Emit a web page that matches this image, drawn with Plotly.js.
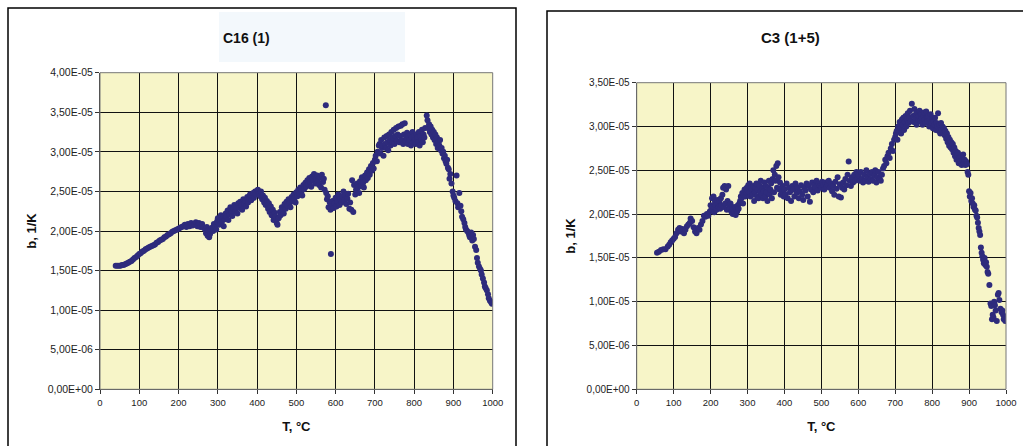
<!DOCTYPE html>
<html><head><meta charset="utf-8">
<script src="https://cdn.plot.ly/plotly-3.0.1.min.js"></script>
<style>html,body{margin:0;padding:0;background:#fff;}#chart{width:1023px;height:446px;}</style>
</head><body><div id="chart"></div>
<script>
// values of b are read in units of 1e-5 1/K
const UNIT = 1e-5;

// ---- Chart C16 (1) ----
const c16T = [
 40,44,48,52,56,60,64,68,72,76,80,84,88,92,96,100,104,108,112,116,120,124,128,132,136,140,144,148,152,156,160,164,168,172,176,180,184,188,192,196,200,204,208,
 212,216,220,224,228,232,236,240,244,248,252,256,260,264,268,270,272,274,276,278,280,282,
 285,288,290,293,296,298,300,303,305,308,310,313,315,318,320,322,325,327,330,332,335,337,340,342,345,347,350,352,355,357,360,362,365,367,370,372,375,377,380,382,385,387,390,392,395,397,400,
 402,405,408,410,413,415,418,420,422,425,428,430,432,435,437,440,442,445,447,450,452,
 455,458,460,463,465,468,470,473,475,478,480,483,485,488,490,493,495,498,500,503,505,508,510,513,515,518,520,523,525,528,530,533,535,538,540,543,545,548,550,553,555,558,560,563,565,568,570,572,
 575,588,
 576,578,580,582,585,587,590,592,595,597,600,602,605,607,610,612,615,617,620,622,625,627,630,632,635,637,640,
 642,645,647,650,652,655,657,660,662,665,667,670,672,675,677,680,682,685,687,690,692,695,697,700,702,705,707,710,
 712,714,716,718,720,722,724,726,728,730,732,734,736,738,740,742,744,746,748,750,752,754,756,758,760,762,764,766,768,770,772,774,776,778,780,782,784,786,788,790,792,794,796,798,800,802,804,806,808,810,812,814,816,818,820,822,824,826,828,
 832,834,836,838,840,842,844,846,848,850,852,854,856,858,860,862,864,866,868,870,872,874,876,878,880,882,884,886,888,890,892,895,898,900,902,905,908,910,912,915,918,920,922,925,928,930,932,935,938,940,942,945,948,950,952,955,958,960,962,965,968,970,972,975,978,980,982,985,988,990,993,996,998,1000
];
const c16B = [
 1.56,1.56,1.56,1.56,1.57,1.57,1.58,1.59,1.60,1.61,1.62,1.64,1.66,1.67,1.69,1.71,1.72,1.74,1.75,1.77,1.78,1.79,1.80,1.81,1.82,1.83,1.85,1.86,1.88,1.89,1.90,1.92,1.93,1.95,1.96,1.97,1.99,2.00,2.01,2.02,2.03,2.04,2.05,
 2.06,2.08,2.05,2.09,2.06,2.10,2.07,2.09,2.11,2.06,2.10,2.05,2.09,2.04,2.02,1.97,2.05,1.94,2.01,1.92,1.96,2.02,
 2.04,2.00,2.09,2.05,2.02,2.12,2.16,2.08,2.13,2.20,2.11,2.17,2.06,2.15,2.22,2.18,2.26,2.14,2.21,2.30,2.24,2.19,2.28,2.33,2.25,2.30,2.22,2.35,2.29,2.37,2.32,2.27,2.40,2.35,2.38,2.31,2.43,2.36,2.41,2.46,2.39,2.44,2.48,2.42,2.50,2.46,2.51,
 2.52,2.47,2.44,2.50,2.40,2.45,2.36,2.42,2.33,2.38,2.28,2.35,2.24,2.31,2.20,2.27,2.14,2.23,2.18,2.10,2.08,
 2.16,2.24,2.20,2.30,2.26,2.22,2.34,2.28,2.37,2.32,2.40,2.35,2.30,2.43,2.38,2.46,2.41,2.36,2.49,2.44,2.52,2.47,2.55,2.50,2.45,2.58,2.53,2.61,2.56,2.64,2.59,2.67,2.62,2.56,2.69,2.64,2.72,2.60,2.66,2.70,2.63,2.58,2.68,2.55,2.71,2.62,2.66,2.52,
 3.59,1.71,
 2.48,2.40,2.44,2.30,2.36,2.27,2.33,2.38,2.29,2.35,2.42,2.31,2.37,2.46,2.33,2.40,2.36,2.44,2.50,2.39,2.45,2.34,2.41,2.47,2.28,2.36,2.27,
 2.64,2.24,2.58,2.46,2.52,2.60,2.55,2.48,2.63,2.57,2.68,2.61,2.55,2.70,2.64,2.74,2.67,2.78,2.71,2.82,2.76,2.86,2.79,2.90,2.95,2.88,3.00,3.08,
 3.10,2.98,3.15,3.05,3.08,2.95,3.18,3.10,3.05,3.20,3.12,3.02,3.22,3.15,3.08,3.25,3.12,3.18,3.28,3.10,3.20,3.30,3.14,3.22,3.32,3.12,3.20,3.33,3.15,3.35,3.10,3.22,3.36,3.14,3.18,3.24,3.10,3.20,3.15,3.22,3.08,3.18,3.25,3.12,3.20,3.15,3.10,3.22,3.18,3.12,3.25,3.08,3.20,3.15,3.28,3.12,3.22,3.18,3.30,
 3.46,3.40,3.30,3.35,3.25,3.32,3.22,3.28,3.18,3.25,3.15,3.22,3.10,3.18,3.05,3.12,3.08,3.15,3.02,3.05,2.98,3.00,2.92,2.95,2.88,2.85,2.90,2.80,2.78,2.66,2.72,2.60,2.50,2.45,2.42,2.38,2.70,2.35,2.30,2.48,2.32,2.25,2.18,2.15,2.10,2.05,2.02,2.00,1.98,1.95,1.92,1.98,1.88,1.95,1.90,1.80,1.76,1.66,1.60,1.55,1.52,1.50,1.45,1.40,1.35,1.30,1.28,1.25,1.20,1.15,1.12,1.10,1.08,1.10
];

// ---- Chart C3 (1+5) ----
const c3T = [
 55,60,66,72,78,84,88,92,96,100,104,108,112,116,120,124,128,132,136,140,144,146,150,154,158,162,166,170,174,178,182,186,190,194,198,
 200,202,204,206,208,210,212,214,216,218,220,222,224,226,228,230,232,234,236,238,240,242,244,246,248,250,252,254,256,258,260,262,264,266,268,270,272,274,276,278,280,282,284,286,288,290,292,294,296,298,300,
 302,304,306,308,310,312,314,316,318,320,322,324,326,328,330,332,334,336,338,340,342,344,346,348,350,352,354,356,358,360,362,364,366,368,370,372,374,376,378,380,382,384,386,388,390,392,394,396,398,400,
 403,406,409,412,415,418,421,424,427,430,433,436,439,442,445,448,451,454,457,460,463,466,469,472,475,478,481,484,487,490,493,496,499,502,505,508,511,514,517,520,523,526,529,532,535,538,541,544,547,550,553,556,559,562,565,568,571,574,577,580,583,586,589,592,595,598,
 601,604,607,610,613,616,619,622,625,628,631,634,637,640,643,646,649,652,655,658,661,664,667,670,673,676,679,682,685,688,691,694,697,700,
 702,704,706,708,710,712,714,716,718,720,722,724,726,728,730,732,734,736,738,740,742,745,748,750,752,754,756,758,760,762,764,766,768,770,772,774,776,778,780,782,784,786,788,790,792,794,796,798,800,802,804,806,808,810,812,814,816,818,820,822,824,826,828,830,832,834,836,838,840,842,844,846,848,850,852,854,856,858,860,862,864,866,868,870,872,874,876,878,880,882,884,886,888,890,892,894,896,
 898,900,902,904,906,908,910,912,914,916,918,920,922,924,926,928,930,932,934,936,938,940,942,944,946,948,950,952,955,958,960,962,964,966,968,970,972,975,978,980,982,985,988,990,992,994,996,998,1000
];
const c3B = [
 1.56,1.57,1.59,1.60,1.60,1.63,1.65,1.68,1.70,1.72,1.74,1.78,1.82,1.84,1.80,1.83,1.78,1.82,1.86,1.88,1.90,1.95,1.92,1.85,1.80,1.78,1.84,1.82,1.88,1.92,1.98,1.97,2.00,1.98,2.03,
 2.10,2.05,2.18,2.08,2.20,2.02,2.14,2.10,2.05,2.16,2.12,2.08,2.15,2.06,2.18,2.10,2.22,2.30,2.08,2.32,2.12,2.28,2.05,2.15,2.32,2.10,2.06,2.12,2.03,2.08,2.00,2.04,2.02,2.08,1.99,2.05,2.03,2.10,2.06,2.12,2.15,2.20,2.18,2.24,2.12,2.22,2.28,2.20,2.25,2.30,2.27,
 2.33,2.25,2.35,2.20,2.30,2.28,2.22,2.32,2.15,2.25,2.30,2.35,2.20,2.28,2.18,2.33,2.25,2.38,2.22,2.30,2.18,2.26,2.36,2.20,2.32,2.25,2.15,2.30,2.38,2.22,2.28,2.35,2.18,2.40,2.50,2.25,2.45,2.38,2.55,2.30,2.58,2.42,2.28,2.36,2.22,2.30,2.25,2.32,2.20,2.28,
 2.22,2.35,2.18,2.30,2.25,2.15,2.32,2.28,2.20,2.35,2.24,2.30,2.18,2.26,2.33,2.22,2.16,2.30,2.27,2.35,2.20,2.32,2.14,2.28,2.36,2.25,2.33,2.30,2.38,2.27,2.35,2.32,2.30,2.37,2.33,2.28,2.36,2.31,2.34,2.38,2.30,2.35,2.26,2.32,2.22,2.37,2.29,2.42,2.20,2.34,2.19,2.30,2.36,2.28,2.40,2.33,2.45,2.60,2.38,2.32,2.42,2.36,2.45,2.38,2.48,2.40,
 2.44,2.38,2.48,2.40,2.36,2.45,2.38,2.50,2.42,2.37,2.46,2.40,2.48,2.38,2.44,2.50,2.36,2.42,2.48,2.40,2.38,2.45,2.52,2.55,2.62,2.58,2.66,2.70,2.64,2.75,2.80,2.72,2.85,2.88,
 2.92,2.95,2.85,3.00,2.94,3.05,2.98,2.92,3.08,3.02,3.10,2.96,3.05,3.12,3.00,3.08,3.15,3.04,3.10,3.18,3.06,3.26,3.12,3.05,3.20,3.10,3.14,3.02,3.16,3.08,3.12,3.18,3.06,3.14,3.10,3.02,3.12,3.16,3.08,3.04,3.17,3.10,3.06,3.12,3.00,3.08,3.14,3.04,3.10,2.98,3.06,3.02,3.10,2.96,3.04,3.00,3.15,2.95,3.02,2.92,3.04,2.96,3.00,2.92,2.98,2.90,2.95,2.86,2.92,2.82,2.88,2.78,2.85,2.76,2.82,2.74,2.80,2.70,2.76,2.66,2.72,2.62,2.68,2.70,2.58,2.64,2.60,2.66,2.56,2.62,2.68,2.58,2.62,2.56,2.60,2.57,2.48,
 2.45,2.26,2.20,2.24,2.15,2.18,2.12,2.08,2.10,2.05,2.04,1.98,1.96,1.90,1.84,1.80,1.76,1.62,1.56,1.52,1.48,1.44,1.50,1.42,1.45,1.40,1.34,1.32,1.19,0.98,0.95,0.80,0.85,0.82,1.00,0.96,0.90,0.78,1.08,1.10,1.02,0.92,0.88,0.90,0.85,0.80,0.82,0.78,0.80
];

// ---- axes ticks ----
const xTicks = [0,100,200,300,400,500,600,700,800,900,1000];
const yTicksC16 = [0,0.5e-5,1.0e-5,1.5e-5,2.0e-5,2.5e-5,3.0e-5,3.5e-5,4.0e-5];
const yLabelsC16 = ["0,00E+00","5,00E-06","1,00E-05","1,50E-05","2,00E-05","2,50E-05","3,00E-05","3,50E-05","4,00E-05"];
const yTicksC3 = [0,0.5e-5,1.0e-5,1.5e-5,2.0e-5,2.5e-5,3.0e-5,3.5e-5];
const yLabelsC3 = ["0,00E+00","5,00E-06","1,00E-05","1,50E-05","2,00E-05","2,50E-05","3,00E-05","3,50E-05"];
const titles = ["C16 (1)", "C3 (1+5)"];
const xTitle = "T, °C";
const yTitle = "b, 1/K";

const FONT = "Liberation Sans, Arial, sans-serif";
const W = 1023, H = 446;
const px = v => v / W;
const py = v => 1 - v / H;
const markerColor = "#2e2b7c";

const traces = [
  {type:"scatter", mode:"markers", x:c16T, y:c16B.map(v => v*UNIT), xaxis:"x", yaxis:"y",
   marker:{color:markerColor, size:6}, showlegend:false, name:titles[0]},
  {type:"scatter", mode:"markers", x:c3T, y:c3B.map(v => v*UNIT), xaxis:"x2", yaxis:"y2",
   marker:{color:markerColor, size:6}, showlegend:false, name:titles[1]}
];

function xAxis(domain, anchor){
  return {domain, anchor, range:[0,1000], tickvals:xTicks, showgrid:true, gridcolor:"#111", gridwidth:1,
    zeroline:false, showline:true, linecolor:"#333", linewidth:1, ticks:"outside", ticklen:4, tickcolor:"#333",
    tickfont:{family:FONT, size:9.5, color:"#222"}, fixedrange:true,
    title:{text:xTitle, font:{family:FONT, size:13, color:"#111", weight:"bold"}, standoff:15}};
}
function yAxis(domain, anchor, range, vals, labels, size){
  return {domain, anchor, range, tickvals:vals, ticktext:labels, showgrid:true, gridcolor:"#111", gridwidth:1,
    zeroline:false, showline:true, linecolor:"#333", linewidth:1, ticks:"outside", ticklen:4, tickcolor:"#333",
    tickfont:{family:FONT, size:size, color:"#222"}, fixedrange:true,
    title:{text:yTitle, font:{family:FONT, size:13, color:"#111", weight:"bold"}, standoff:8}};
}

const layout = {
  width:W, height:H, margin:{l:0,r:0,t:0,b:0},
  paper_bgcolor:"#ffffff", plot_bgcolor:"#f7f5c8",
  xaxis: xAxis([px(100), px(492.7)], "y"),
  yaxis: yAxis([py(389.3), py(72.7)], "x", [0,4e-5], yTicksC16, yLabelsC16, 10.5),
  xaxis2: xAxis([px(636.7), px(1006)], "y2"),
  yaxis2: yAxis([py(389.3), py(82.7)], "x2", [0,3.5e-5], yTicksC3, yLabelsC3, 10),
  shapes:[
    {type:"rect", xref:"paper", yref:"paper", x0:px(219), x1:px(405), y0:py(62), y1:py(12),
     fillcolor:"#f3f8fc", line:{width:0}, layer:"below"},
    {type:"rect", xref:"paper", yref:"paper", x0:px(8), x1:px(516), y0:py(470), y1:py(8),
     fillcolor:"rgba(0,0,0,0)", line:{color:"#000", width:1.5}},
    {type:"rect", xref:"paper", yref:"paper", x0:px(547), x1:px(1040), y0:py(470), y1:py(11),
     fillcolor:"rgba(0,0,0,0)", line:{color:"#000", width:1.5}},
    {type:"rect", xref:"x domain", yref:"y domain", x0:0, x1:1, y0:0, y1:1,
     line:{color:"#777", width:1}, layer:"above"},
    {type:"rect", xref:"x2 domain", yref:"y2 domain", x0:0, x1:1, y0:0, y1:1,
     line:{color:"#777", width:1}, layer:"above"}
  ],
  annotations:[
    {text:titles[0], xref:"paper", yref:"paper", x:px(246), y:py(38), xanchor:"center", yanchor:"middle",
     showarrow:false, font:{family:FONT, size:14, color:"#111", weight:"bold"}},
    {text:titles[1], xref:"paper", yref:"paper", x:px(790), y:py(37), xanchor:"center", yanchor:"middle",
     showarrow:false, font:{family:FONT, size:15, color:"#111", weight:"bold"}}
  ]
};

Plotly.newPlot("chart", traces, layout, {displayModeBar:false, staticPlot:true});
</script>
</body></html>
